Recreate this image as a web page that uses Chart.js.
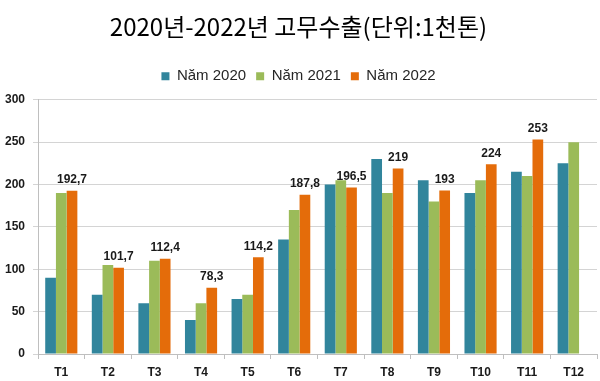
<!DOCTYPE html>
<html>
<head>
<meta charset="utf-8">
<script src="https://cdn.jsdelivr.net/npm/chart.js@4"></script>
<style>
  html, body { margin: 0; padding: 0; background: #ffffff; }
  #wrap { width: 600px; height: 381px; position: relative; }
</style>
</head>
<body>
<div id="wrap"><canvas id="c"></canvas></div>
<script>
const categories = ['T1','T2','T3','T4','T5','T6','T7','T8','T9','T10','T11','T12'];
const seriesNames = ['Năm 2020', 'Năm 2021', 'Năm 2022'];
const d2020 = [90, 70, 60, 40, 65, 135, 200, 230, 205, 190, 215, 225];
const d2021 = [190, 105, 110, 60, 70, 170, 205, 190, 180, 205, 210, 250];
const d2022 = [192.7, 101.7, 112.4, 78.3, 114.2, 187.8, 196.5, 219, 193, 224, 253, null];
const yTicks = [0, 50, 100, 150, 200, 250, 300];
const titleText = '2020년-2022년 고무수출(단위:1천톤)';

const colors = ['#31859C', '#9BBB59', '#E46C0A'];
const baseFont = '"Liberation Sans", Arial, sans-serif';

const padLegend = {
  id: 'padLegend',
  beforeLayout(chart) {
    const lg = chart.legend;
    if (lg && !lg.__padded) {
      const fit = lg.fit;
      lg.fit = function () { fit.call(this); this.height += 6; };
      lg.__padded = true;
    }
  }
};

const barLabels = {
  id: 'barLabels',
  afterDatasetsDraw(chart) {
    const ctx = chart.ctx;
    const meta = chart.getDatasetMeta(2);
    ctx.save();
    ctx.font = 'bold 12px ' + baseFont;
    ctx.fillStyle = '#1a1a1a';
    ctx.textAlign = 'center';
    ctx.textBaseline = 'bottom';
    meta.data.forEach((bar, i) => {
      const v = d2022[i];
      if (v == null) return;
      ctx.fillText(String(v).replace('.', ','), bar.x, bar.y - 5);
    });
    ctx.restore();
  }
};

new Chart(document.getElementById('c'), {
  type: 'bar',
  data: {
    labels: categories,
    datasets: [
      { label: seriesNames[0], data: d2020, backgroundColor: colors[0] },
      { label: seriesNames[1], data: d2021, backgroundColor: colors[1] },
      { label: seriesNames[2], data: d2022, backgroundColor: colors[2] }
    ]
  },
  options: {
    responsive: true,
    maintainAspectRatio: false,
    animation: false,
    datasets: { bar: { categoryPercentage: 0.69, barPercentage: 1.0, borderWidth: 0 } },
    layout: { padding: { left: 0, right: 3, top: 0, bottom: 0 } },
    plugins: {
      title: {
        display: true,
        text: titleText,
        color: '#000000',
        font: { family: '"Noto Sans CJK KR", sans-serif', size: 24, weight: 'normal' },
        padding: { top: 12, bottom: 18 }
      },
      legend: {
        display: true,
        position: 'top',
        labels: {
          boxWidth: 8,
          boxHeight: 8,
          padding: 10,
          color: '#262626',
          font: { family: baseFont, size: 15 }
        }
      },
      tooltip: { enabled: false }
    },
    scales: {
      x: {
        offset: true,
        grid: {
          offset: true,
          drawOnChartArea: false,
          drawTicks: true,
          tickLength: 5,
          color: '#bfbfbf'
        },
        border: { display: true, color: '#bfbfbf', width: 1 },
        ticks: {
          color: '#1a1a1a',
          padding: 6,
          font: { family: baseFont, size: 12, weight: 'bold' }
        },
        afterFit(scale) { scale.height = 27; }
      },
      y: {
        min: 0,
        max: 300,
        afterBuildTicks(scale) { scale.ticks = yTicks.map(v => ({ value: v })); },
        grid: {
          color: '#d4d4d4',
          drawTicks: true,
          tickLength: 5
        },
        border: { display: true, color: '#bfbfbf', width: 1 },
        ticks: {
          color: '#1a1a1a',
          padding: 8,
          font: { family: baseFont, size: 12, weight: 'bold' }
        },
        afterFit(scale) { scale.width = 38; }
      }
    }
  },
  plugins: [padLegend, barLabels]
});
</script>
</body>
</html>
